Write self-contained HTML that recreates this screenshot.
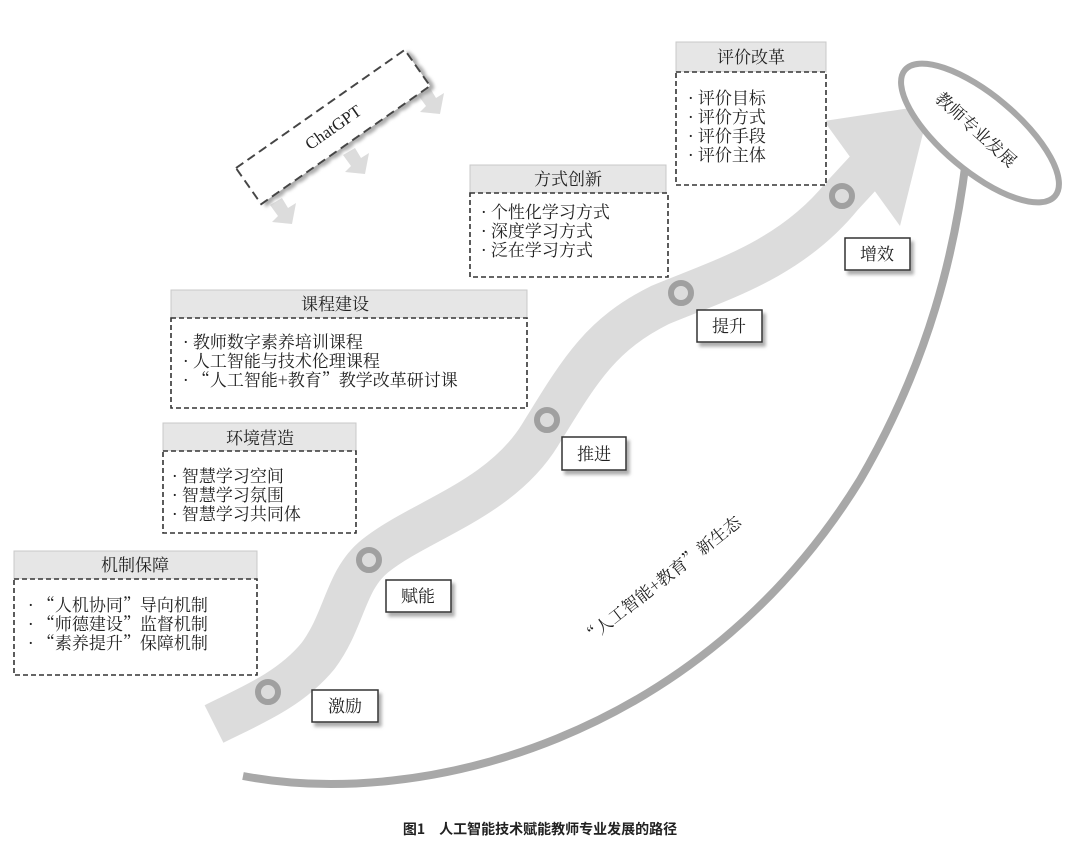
<!DOCTYPE html>
<html><head><meta charset="utf-8"><style>
html,body{margin:0;padding:0;background:#fff;}
svg{display:block}
text{font-family:"Noto Serif CJK SC","Liberation Serif",serif;fill:#222;}
.t{font-size:17px}
.h{font-size:17px;text-anchor:middle}
.hd{fill:#e6e6e6;stroke:#c8c8c8;stroke-width:1}
.bd{fill:#fff;stroke:#333;stroke-width:1.6;stroke-dasharray:5,3}
</style></head><body>
<svg width="1080" height="861" viewBox="0 0 1080 861" xmlns="http://www.w3.org/2000/svg">
<defs>
<filter id="sh" x="-20%" y="-20%" width="150%" height="160%"><feDropShadow dx="3" dy="4" stdDeviation="1.5" flood-color="#999" flood-opacity="0.8"/></filter>
</defs>
<!-- ribbon -->
<path d="M214,724 C250,706 290,690 318,656 C345,620 345,580 375,556 C420,520 500,500 540,435 C580,370 600,335 660,305 C720,280 790,260 842,196 L866,170" fill="none" stroke="#dcdcdc" stroke-width="42"/>
<polygon points="824,121 930,105 900,226" fill="#dcdcdc"/>
<!-- big arc -->
<path d="M243,776 C420,810 700,740 860,480 C930,360 955,250 966,160" fill="none" stroke="#a8a8a8" stroke-width="8"/>
<!-- ellipse -->
<ellipse cx="980" cy="133" rx="98" ry="38" transform="rotate(40 980 133)" fill="#fff" stroke="#a8a8a8" stroke-width="6"/>
<text transform="translate(972,134) rotate(42)" font-size="17" text-anchor="middle">教师专业发展</text>
<!-- circles -->
<g fill="none" stroke="#a0a0a0" stroke-width="6">
<circle cx="268" cy="692" r="10"/><circle cx="369" cy="560" r="10"/><circle cx="547" cy="420" r="10"/><circle cx="681" cy="293" r="10"/><circle cx="842" cy="196" r="10"/>
</g>
<!-- ChatGPT -->
<g fill="#dcdcdc">
<polygon points="270,205 282,198 288,208 296,203 292,224 272,222 278,216"/>
<polygon points="343,155 355,148 361,158 369,153 365,174 345,172 351,166"/>
<polygon points="418,95 430,88 436,98 444,93 440,114 420,112 426,106"/>
</g>
<g transform="translate(333,127) rotate(-35)">
<rect x="-103" y="-22" width="206" height="44" fill="#fff" stroke="#444" stroke-width="2" stroke-dasharray="9,5" filter="url(#sh)"/>
<text x="0" y="6" font-size="17" text-anchor="middle" style="font-family:'Liberation Serif',serif">ChatGPT</text>
</g>
<!-- boxes -->
<rect class="hd" x="676" y="42" width="150" height="30"/><text class="h" x="751" y="63">评价改革</text>
<rect class="bd" x="676" y="72" width="150" height="113"/>
<text class="t" x="688" y="104">· 评价目标</text><text class="t" x="688" y="123">· 评价方式</text><text class="t" x="688" y="142">· 评价手段</text><text class="t" x="688" y="161">· 评价主体</text>

<rect class="hd" x="470" y="165" width="196" height="28"/><text class="h" x="568" y="185">方式创新</text>
<rect class="bd" x="470" y="193" width="198" height="84"/>
<text class="t" x="481" y="218">· 个性化学习方式</text><text class="t" x="481" y="237">· 深度学习方式</text><text class="t" x="481" y="256">· 泛在学习方式</text>

<rect class="hd" x="171" y="290" width="356" height="28"/><text class="h" x="335" y="310">课程建设</text>
<rect class="bd" x="171" y="318" width="356" height="90"/>
<text class="t" x="183" y="348">· 教师数字素养培训课程</text><text class="t" x="183" y="367">· 人工智能与技术伦理课程</text><text class="t" x="183" y="386">·  “人工智能+教育”教学改革研讨课</text>

<rect class="hd" x="163" y="423" width="193" height="28"/><text class="h" x="260" y="444">环境营造</text>
<rect class="bd" x="163" y="451" width="193" height="82"/>
<text class="t" x="172" y="482">· 智慧学习空间</text><text class="t" x="172" y="501">· 智慧学习氛围</text><text class="t" x="172" y="520">· 智慧学习共同体</text>

<rect class="hd" x="14" y="551" width="243" height="28"/><text class="h" x="135" y="571">机制保障</text>
<rect class="bd" x="14" y="579" width="243" height="96"/>
<text class="t" x="28" y="611">·  “人机协同”导向机制</text><text class="t" x="28" y="630">·  “师德建设”监督机制</text><text class="t" x="28" y="649">·  “素养提升”保障机制</text>

<!-- labels -->
<g filter="url(#sh)" fill="#fff" stroke="#333" stroke-width="1.5">
<rect x="312" y="690" width="66" height="32"/><rect x="386" y="580" width="65" height="32"/><rect x="562" y="437" width="64" height="33"/><rect x="697" y="310" width="65" height="32"/><rect x="845" y="238" width="65" height="32"/>
</g>
<g font-size="17" text-anchor="middle">
<text x="345" y="712">激励</text><text x="418" y="602">赋能</text><text x="594" y="460">推进</text><text x="729" y="332">提升</text><text x="877" y="260">增效</text>
</g>
<text transform="translate(665,585) rotate(-38)" font-size="17" text-anchor="middle">“人工智能+教育”新生态</text>
<text x="540" y="834" font-size="14" font-weight="bold" text-anchor="middle" style="font-family:'Noto Sans CJK SC','Liberation Sans',sans-serif">图1　人工智能技术赋能教师专业发展的路径</text>
</svg>
</body></html>
